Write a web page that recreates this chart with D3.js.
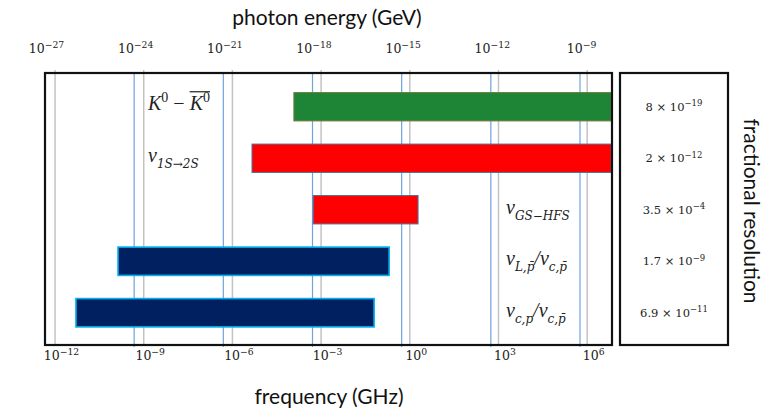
<!DOCTYPE html>
<html>
<head>
<meta charset="utf-8">
<script src="https://cdn.jsdelivr.net/npm/d3@7"></script>
<style>
  body { margin: 0; background: #fff; }
  svg { display: block; }
</style>
</head>
<body>
<div id="chart"></div>
<script>
// rows, top to bottom
const rowIds = ["kaon", "ls", "hfs", "lp", "cp"];
const rowLabels = [
    [{t: "K"}, {t: "0", sup: true, up: true}, {t: " \u2212 ", up: true}, {t: "K", over: true}, {t: "0", sup: true, over: true, up: true}],
    [{t: "\u03bd"}, {t: "1S\u21922S", sub: true}],
    [{t: "\u03bd"}, {t: "GS\u2212HFS", sub: true}],
    [{t: "\u03bd"}, {t: "L,p\u0304", sub: true}, {t: "/\u03bd"}, {t: "c,p\u0304", sub: true}],
    [{t: "\u03bd"}, {t: "c,p", sub: true}, {t: "/\u03bd"}, {t: "c,p\u0304", sub: true}]
];
// frequency range of each bar (GHz)
const barStart = [1.2e-4, 4.6e-6, 5.4e-4, 1.35e-10, 5.1e-12];
const barEnd   = [6.5e6, 6.5e6, 1.9, 0.2, 0.062];
const barColors = ["#1e8536", "#ff0000", "#ff0000", "#002060", "#002060"];
const barStrokes = ["#6b7d3a", "#41719c", "#41719c", "#00b0f0", "#00b0f0"];
// fractional resolution: mantissa x 10^exp
const resMantissa = ["8", "2", "3.5", "1.7", "6.9"];
const resExp = [-19, -12, -4, -9, -11];

const freqTicks = [1e-12, 1e-9, 1e-6, 1e-3, 1e0, 1e3, 1e6];
const energyTicks = [1e-27, 1e-24, 1e-21, 1e-18, 1e-15, 1e-12, 1e-9];

const width = 771, height = 410;
const box = {left: 45, right: 612, top: 73, bottom: 345};
const side = {left: 620, right: 728};

const svg = d3.select("#chart").append("svg")
    .attr("width", width)
    .attr("height", height);

const x = d3.scaleLog()
    .domain([Math.pow(10, -12.34), Math.pow(10, 6.84)])
    .range([box.left, box.right]);

const xTop = d3.scaleLog()
    .domain([1e-27, 1e-9])
    .range([box.left, 580]);

const y = d3.scaleBand()
    .domain(rowIds)
    .range([81, 338.5])
    .paddingInner(0.45)
    .paddingOuter(0.225);

const serif = "'Liberation Serif', 'DejaVu Serif', serif";
const dserif = "'DejaVu Serif', serif";
const sans = "Lato, 'Open Sans', sans-serif";

// writes text made of segments with sub/superscripts
function richText(sel, segs, size, small, smallFont) {
    let shift = 0;
    segs.forEach(s => {
        let target = s.sub ? size * 0.3 : (s.sup ? -size * 0.4 : 0);
        let ts = sel.append("tspan")
            .attr("class", s.over ? "over" : null)
            .attr("dy", target - shift)
            .attr("font-size", (s.sub || s.sup) ? small : size)
            .text(s.t);
        if (s.up) ts.attr("font-style", "normal");
        if (s.sub && smallFont) ts.attr("font-family", smallFont);
        shift = target;
    });
}

function powerLabel(sel, v, size) {
    let e = Math.round(Math.log10(v));
    sel.text(null);
    richText(sel, [{t: "10"}, {t: (e < 0 ? "\u2212" : "") + Math.abs(e), sup: true}], size, size * 0.74);
}

// grid lines
svg.append("g").selectAll("line")
    .data(freqTicks)
    .join("line")
    .attr("x1", d => x(d)).attr("x2", d => x(d))
    .attr("y1", box.top - 3).attr("y2", box.bottom)
    .attr("stroke", "#c3c3c3")
    .attr("stroke-width", 1.5);

svg.append("g").selectAll("line")
    .data(energyTicks.slice(1))
    .join("line")
    .attr("x1", d => xTop(d)).attr("x2", d => xTop(d))
    .attr("y1", box.top).attr("y2", box.bottom + 2)
    .attr("stroke", "#6fa3dc")
    .attr("stroke-width", 1.2);

// bars
svg.append("g").selectAll("rect")
    .data(rowIds)
    .join("rect")
    .attr("x", (d, i) => x(barStart[i]))
    .attr("width", (d, i) => x(barEnd[i]) - x(barStart[i]))
    .attr("y", d => y(d))
    .attr("height", y.bandwidth())
    .attr("fill", (d, i) => barColors[i])
    .attr("stroke", (d, i) => barStrokes[i])
    .attr("stroke-width", (d, i) => i > 2 ? 1.6 : 1);

// frames
svg.append("rect")
    .attr("x", box.left).attr("y", box.top)
    .attr("width", box.right - box.left).attr("height", box.bottom - box.top)
    .attr("fill", "none").attr("stroke", "#111").attr("stroke-width", 2.2);

svg.append("rect")
    .attr("x", side.left).attr("y", box.top)
    .attr("width", side.right - side.left).attr("height", box.bottom - box.top)
    .attr("fill", "none").attr("stroke", "#111").attr("stroke-width", 2.2);

// axes
const bottomAxis = svg.append("g")
    .attr("transform", `translate(0,${box.bottom})`)
    .call(d3.axisBottom(x).tickValues(freqTicks).tickSize(0).tickPadding(15).tickFormat(""));
bottomAxis.select(".domain").remove();
bottomAxis.selectAll(".tick text")
    .attr("font-family", dserif)
    .attr("fill", "#222")
    .attr("dx", 6)
    .each(function(d) { powerLabel(d3.select(this), d, 12.5); });

const topAxis = svg.append("g")
    .attr("transform", `translate(0,${box.top})`)
    .call(d3.axisTop(xTop).tickValues(energyTicks).tickSize(0).tickPadding(20).tickFormat(""));
topAxis.select(".domain").remove();
topAxis.selectAll(".tick text")
    .attr("font-family", dserif)
    .attr("fill", "#222")
    .attr("dx", 1)
    .each(function(d) { powerLabel(d3.select(this), d, 12.5); });

// row labels
rowIds.forEach((id, i) => {
    let t = svg.append("text")
        .attr("x", i < 2 ? 148 : 506)
        .attr("y", y(id) + y.bandwidth() / 2 + (i === 0 ? 3 : 4))
        .attr("font-family", serif)
        .attr("font-style", "italic")
        .attr("fill", "#222");
    richText(t, rowLabels[i], 20, i === 0 ? 14 : 12, dserif);
    // overline for anti-kaon
    let ov = t.selectAll("tspan.over").nodes().map(n => n.getBBox());
    if (ov.length) {
        let x0 = d3.min(ov, b => b.x), x1 = d3.max(ov, b => b.x + b.width);
        let top = d3.min(ov, b => b.y);
        svg.append("line")
            .attr("x1", x0 + 1).attr("x2", x1)
            .attr("y1", top + 2).attr("y2", top + 2)
            .attr("stroke", "#222").attr("stroke-width", 1.2);
    }
});

// resolution values
rowIds.forEach((id, i) => {
    let t = svg.append("text")
        .attr("x", (side.left + side.right) / 2)
        .attr("y", y(id) + y.bandwidth() / 2 + 4)
        .attr("text-anchor", "middle")
        .attr("font-family", dserif)
        .attr("font-size", 11.5)
        .attr("fill", "#222");
    richText(t, [{t: resMantissa[i] + " \u00d7 10"}, {t: "\u2212" + Math.abs(resExp[i]), sup: true}], 11.5, 8.5);
});

// titles
svg.append("text")
    .attr("x", 327).attr("y", 25)
    .attr("text-anchor", "middle")
    .attr("font-family", sans)
    .attr("font-size", 21)
    .attr("fill", "#111")
    .text("photon energy (GeV)");

svg.append("text")
    .attr("x", 329).attr("y", 404)
    .attr("text-anchor", "middle")
    .attr("font-family", sans)
    .attr("font-size", 21)
    .attr("fill", "#111")
    .text("frequency (GHz)");

svg.append("text")
    .attr("transform", "translate(744,211) rotate(90)")
    .attr("text-anchor", "middle")
    .attr("font-family", sans)
    .attr("font-size", 21)
    .attr("fill", "#111")
    .text("fractional resolution");
</script>
</body>
</html>
